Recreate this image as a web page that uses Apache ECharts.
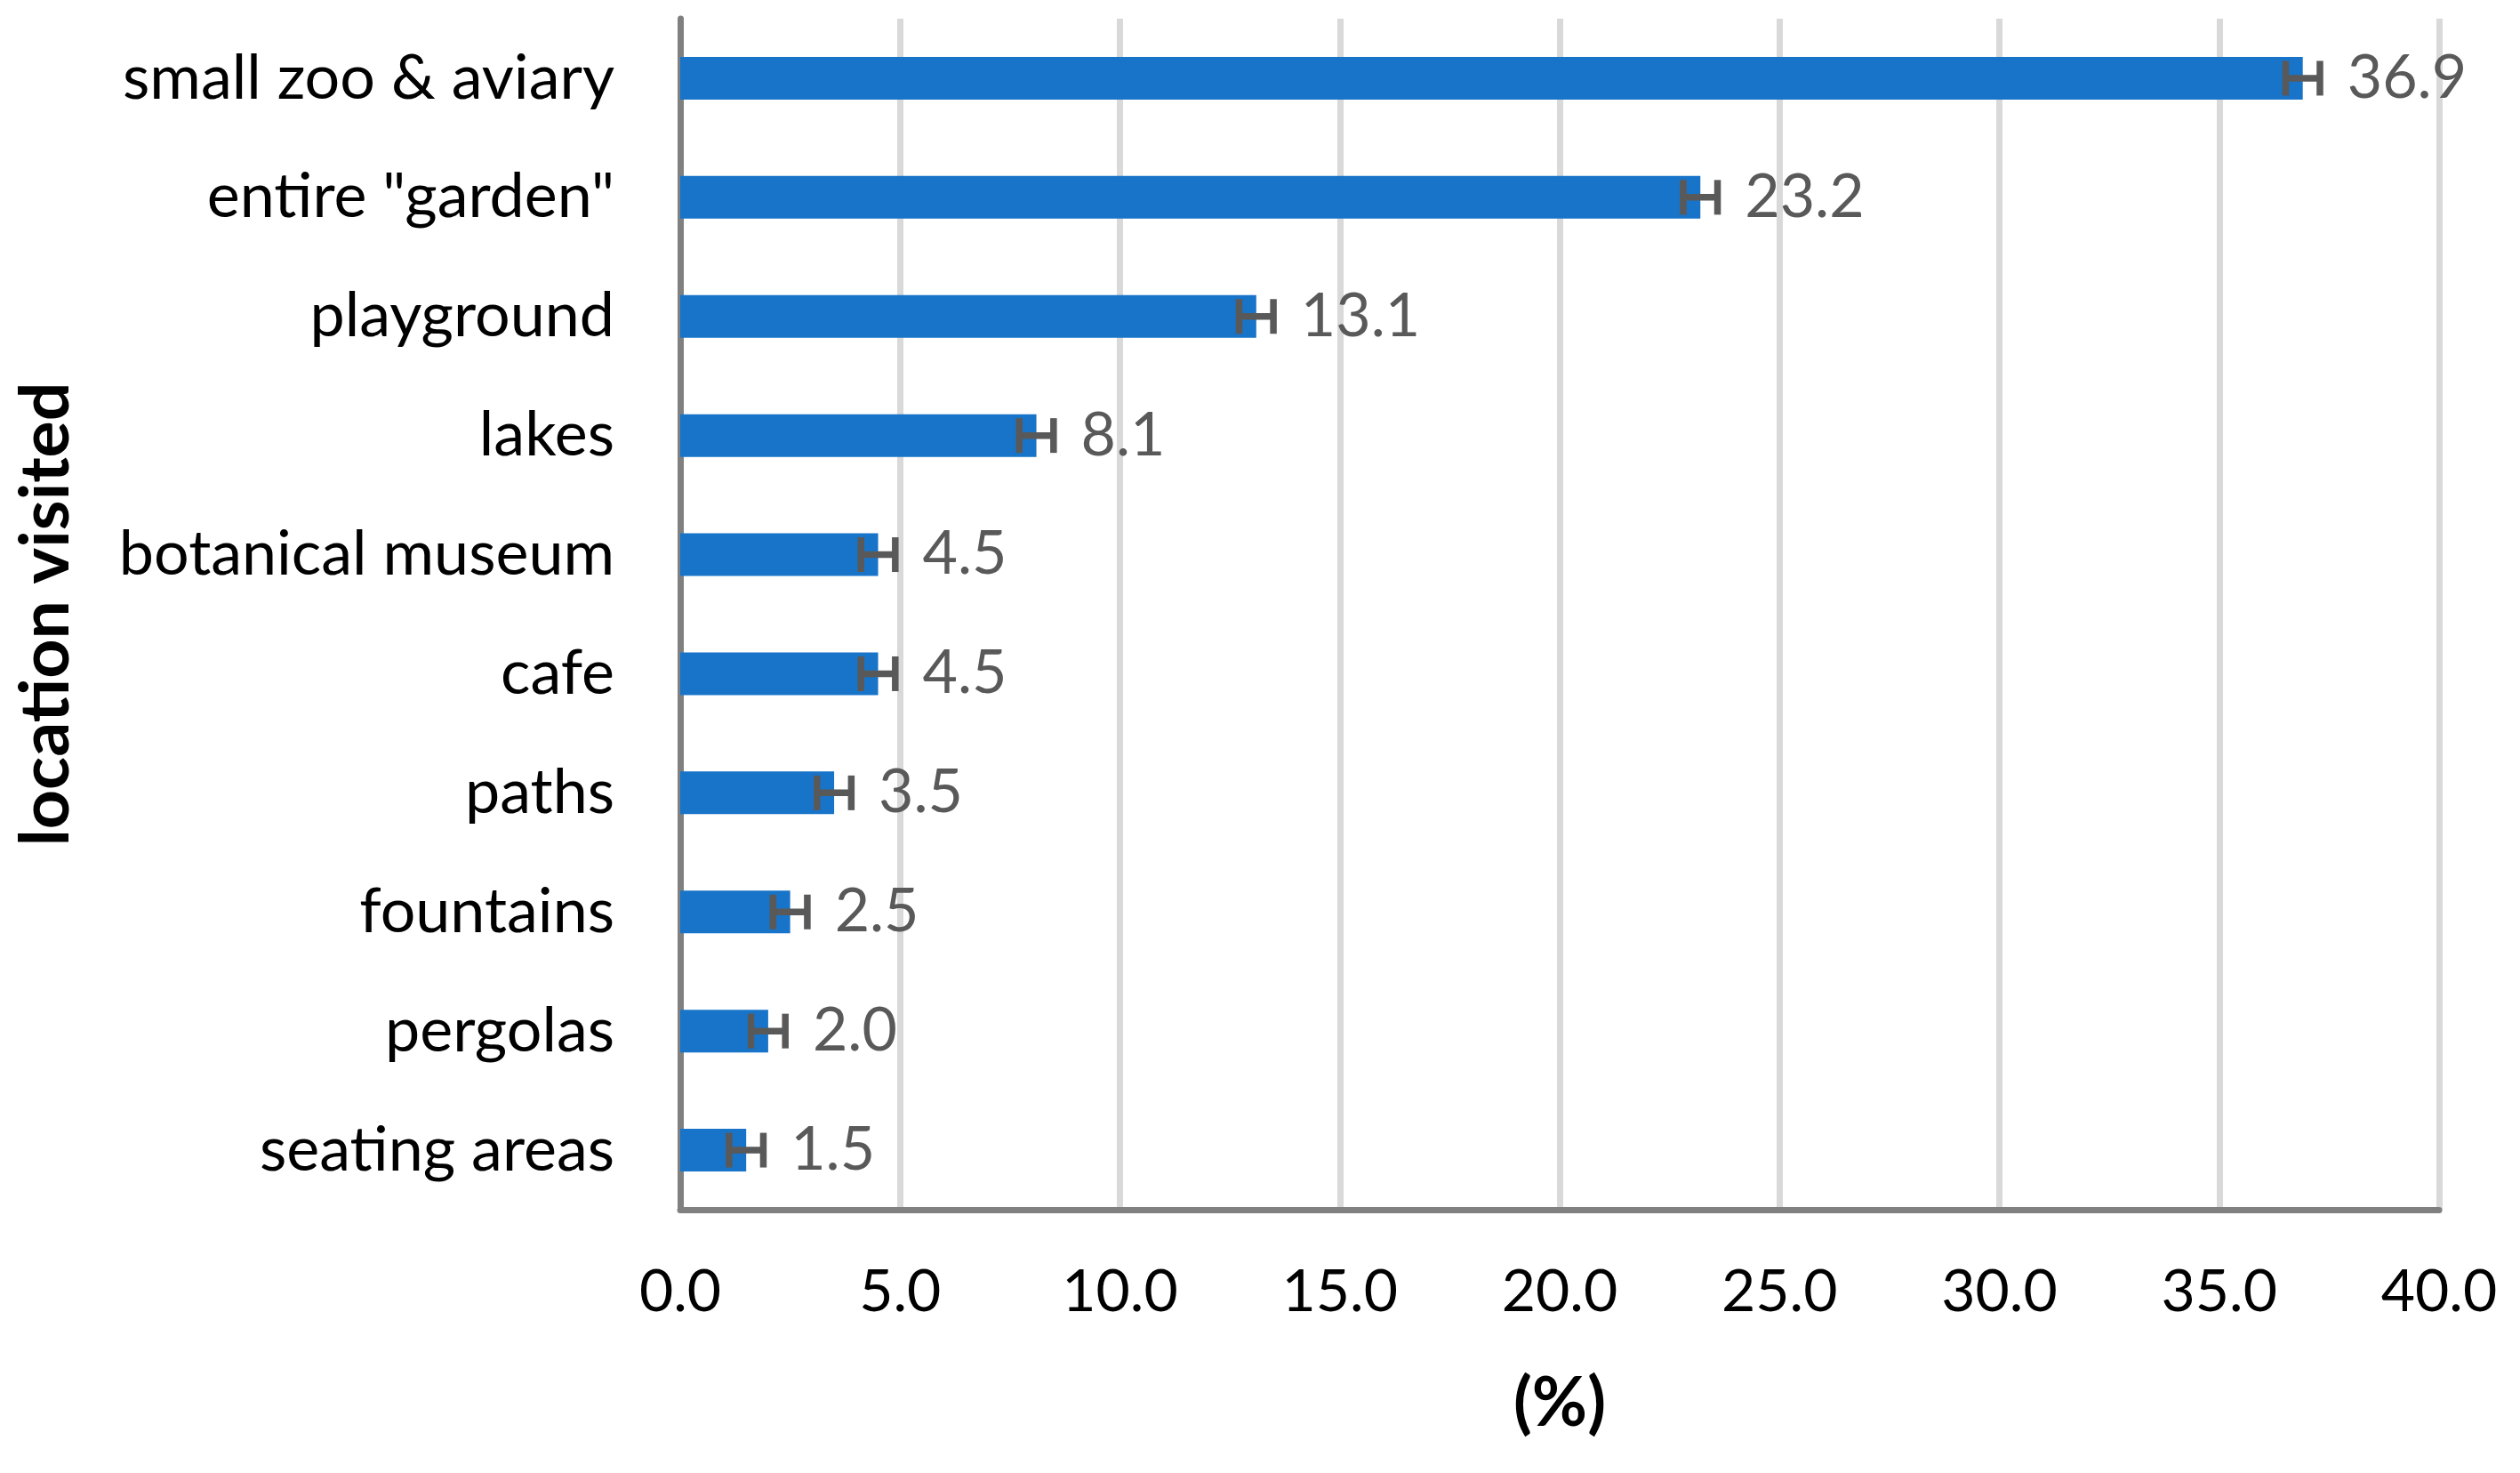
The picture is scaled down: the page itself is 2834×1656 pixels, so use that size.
<!DOCTYPE html>
<html><head><meta charset="utf-8">
<script src="https://cdn.jsdelivr.net/npm/echarts@6/dist/echarts.min.js"></script>
<style>html,body{margin:0;padding:0;background:#fff}#c{width:2834px;height:1656px}</style>
</head><body><div id="c"></div>
<script>
var categories = ["small zoo & aviary", "entire \"garden\"", "playground", "lakes", "botanical museum", "cafe", "paths", "fountains", "pergolas", "seating areas"];
var values = [36.9, 23.2, 13.1, 8.1, 4.5, 4.5, 3.5, 2.5, 2.0, 1.5];
var errors = [0.39, 0.39, 0.39, 0.39, 0.39, 0.39, 0.39, 0.39, 0.39, 0.39];
var xTicks = [0, 5, 10, 15, 20, 25, 30, 35, 40];

var FONT = 'Lato';
var chart = echarts.init(document.getElementById('c'));
var errData = values.map(function (v, i) { return [i, v - errors[i], v + errors[i]]; });
chart.setOption({
  animation: false,
  grid: { left: 765, right: 91, top: 21, bottom: 296, containLabel: false },
  xAxis: {
    type: 'value', min: xTicks[0], max: xTicks[xTicks.length - 1], interval: 5,
    name: '(%)', nameLocation: 'middle', nameGap: 180,
    nameTextStyle: { fontFamily: FONT, fontSize: 76, fontWeight: 'bold', color: '#000' },
    axisLine: { show: true, lineStyle: { color: '#808080', width: 7 } },
    axisTick: { show: false },
    splitLine: { show: true, lineStyle: { color: '#d9d9d9', width: 7 } },
    axisLabel: { fontFamily: FONT, fontSize: 66, color: '#000', margin: 60,
      formatter: function (v) { return v.toFixed(1); } }
  },
  yAxis: {
    type: 'category', data: categories, inverse: true,
    name: 'location visited', nameLocation: 'middle', nameGap: 674, nameRotate: 90,
    nameTextStyle: { fontFamily: FONT, fontSize: 77, fontWeight: 'bold', color: '#000' },
    axisLine: { show: true, lineStyle: { color: '#808080', width: 7 } },
    axisTick: { show: false },
    splitLine: { show: false },
    axisLabel: { fontFamily: FONT, fontSize: 70, color: '#000', margin: 74 }
  },
  series: [
    {
      type: 'bar', data: values, barWidth: 48, z: 2,
      itemStyle: { color: '#1874c9' },
      label: { show: true, position: 'right', distance: 50, fontFamily: FONT, fontSize: 68, color: '#595959',
        formatter: function (p) { return p.value.toFixed(1); } }
    },
    {
      type: 'custom', z: 3, data: errData,
      renderItem: function (params, api) {
        var idx = api.value(0);
        var lo = api.coord([api.value(1), idx]);
        var hi = api.coord([api.value(2), idx]);
        var y = lo[1];
        var h = 19.5;
        var st = { stroke: '#595959', lineWidth: 7.5 };
        return { type: 'group', children: [
          { type: 'line', shape: { x1: lo[0], y1: y, x2: hi[0], y2: y }, style: st },
          { type: 'line', shape: { x1: lo[0], y1: y - h, x2: lo[0], y2: y + h }, style: st },
          { type: 'line', shape: { x1: hi[0], y1: y - h, x2: hi[0], y2: y + h }, style: st }
        ] };
      },
      encode: { x: [1, 2], y: 0 }
    }
  ]
});
</script></body></html>
